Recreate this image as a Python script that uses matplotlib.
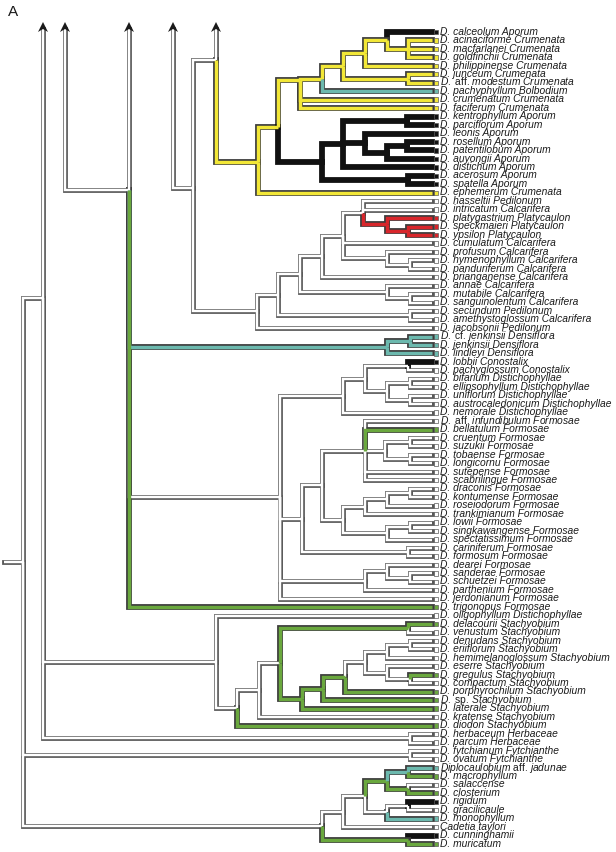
import matplotlib
matplotlib.use("Agg")
import matplotlib.pyplot as plt
from matplotlib.patches import Polygon, Rectangle

# ---------------- data ----------------
species = ["calceolum", "acinaciforme", "macfarlanei", "goldfinchii", "philippinense", "junceum",
           "aff. modestum", "pachyphyllum", "crumenatum", "faciferum", "kentrophyllum", "parciflorum",
           "leonis", "rosellum", "patentilobum", "auyongii", "distichum", "acerosum", "spatella",
           "ephemerum", "hasseltii", "intricatum", "platygastrium", "speckmaieri", "ypsilon",
           "cumulatum", "profusum", "hymenophyllum", "panduriferum", "prianganense", "annae",
           "mutabile", "sanguinolentum", "secundum", "amethystoglossum", "jacobsonii",
           "cf. jenkinsii", "jenkinsii", "lindleyi", "lobbii", "pachyglossum", "bifarium",
           "ellipsophyllum", "uniflorum", "austrocaledonicum", "nemorale", "aff. infundibulum",
           "bellatulum", "cruentum", "suzukii", "tobaense", "longicornu", "sutepense", "scabrilingue",
           "draconis", "kontumense", "roseiodorum", "trankimianum", "lowii", "singkawangense",
           "spectatissimum", "cariniferum", "formosum", "dearei", "sanderae", "schuetzei",
           "parthenium", "jerdonianum", "trigonopus", "oligophyllum", "delacourii", "venustum",
           "denudans", "eriiflorum", "hemimelanoglossum", "eserre", "gregulus", "compactum",
           "porphyrochilum", "sp.", "laterale", "kratense", "diodon", "herbaceum", "parcum",
           "fytchianum", "ovatum", "Diplocaulobium aff. jadunae", "macrophyllum", "salaccense",
           "closterium", "rigidum", "gracilicaule", "monophyllum", "Cadetia taylori",
           "cunninghamii", "muricatum"]
sections = (["Aporum"] + ["Crumenata"] * 6 + ["Bolbodium"] + ["Crumenata"] * 2 + ["Aporum"] * 9
            + ["Crumenata", "Pedilonum"] + ["Calcarifera"] + ["Platycaulon"] * 3 + ["Calcarifera"] * 8
            + ["Pedilonum", "Calcarifera", "Pedilonum"] + ["Densiflora"] * 3 + ["Conostalix"] * 2
            + ["Distichophyllae"] * 5 + ["Formosae"] * 23 + ["Distichophyllae"] + ["Stachyobium"] * 13
            + ["Herbaceae"] * 2 + ["Fytchianthe"] * 2 + [""] * 10)
tip_state = list("kyyyyyytyy" "kkkkkkkkky" "wwrrrwwwww" "wwwwwwtttk" "wwwwwwwgww"
                 "wwwwwwwwww" "wwwwwwwwgw" "gwwwwwgwgg" "gwgwwwwtgw" "gkwtwkg")

# tree strings: (children)colour[@y]:x ; tips = index into species ; '^' = lineage continuing upward
aporum = "(((10,11)k:407,(12,((13,14)k:407,15)k:387)k:365,16)k:343,(17,18)k:408)k:322"
crumenata = ("(((((((0,(1,2,3)y:408)y:387,4)y:365,(5,6)y:408)y:343,7)y:322,8,9)y@80:300,"
             + aporum + ")y@127:278,19)y@162:258")
calcarifera = ("((((((20,21,(22,(23,24)r:408)r:387)w:363,25,(26,(27,28)w:410)w:387)w:343,29)w:322,"
               "(30,(31,32)w:410)w:387)w:300,(33,34)w:410)w:278,35)w:257")
densiflora = "((36,37)t:410,38)t:387"
formosae_top = "(((39,40)w:408,((41,42)w:410,(43,44)w:410)w:387)w:365,45)w:343"
formosae_mid = ("(((46,47,((48,49)w:410,(50,51)w:410)w:385,52,53)w:365,"
                "((((54,55)w:410,56)w:387,57)w:365,((58,59)w:410,60)w:387)w:343)w:322,(61,62)w:408)w:302")
formosae_low = "((63,(64,65)w:410)w:387,66)w:365"
formosae = "(" + formosae_top + "," + formosae_mid + "," + formosae_low + ",67)w:280"
stachy = ("(69,((((70,71)g:408,((((((72,73)w:410,74)w:387,(75,(76,77)w:410)w:387)w:365,78)g:345,79)g:323,"
          "80)g:302)w:280,81)w:259,82)w:237)w:216")
herbaceae = "(83,84)w:410"
fytchianthe = "(85,86)w:410"
bottom = "(((((87,88)t:408,(89,90)g:408)g:387,((91,92)w:408,93)w:387)w:365,94)w:343,(95,96)g:408)w:322"

forest = [
    ("(^:173,(^," + crumenata + ")w@60:216," + calcarifera + ")w@188:193", None),
    ("(^:65,^," + densiflora + "," + formosae + ",68)g@190:129", None),
    ("((^," + stachy + "," + herbaceae + ")w@298:43," + fytchianthe + "," + bottom + ")w:23", 4.0),
]

colors = {"y": "#f2e737", "k": "#111111", "t": "#6cb9ae", "r": "#d8262b", "g": "#6aa83e", "w": "#ffffff"}
edge_col = "#5a5a5a"


def parse(s):
    pos = 0

    def node():
        nonlocal pos
        kids = []
        if s[pos] == "(":
            pos += 1
            kids.append(node())
            while s[pos] == ",":
                pos += 1
                kids.append(node())
            assert s[pos] == ")", s[:pos]
            pos += 1
        st = pos
        while pos < len(s) and s[pos] not in ":,()":
            pos += 1
        label = s[st:pos]
        x = None
        if pos < len(s) and s[pos] == ":":
            pos += 1
            st = pos
            while pos < len(s) and s[pos] not in ",()":
                pos += 1
            x = float(s[st:pos])
        return {"kids": kids, "label": label, "x": x}

    out = node()
    assert pos == len(s), "unparsed tail: " + s[pos:]
    return out


n_tips = len(species)
y_first, y_last = 32.0, 844.0
tip_x = 432.0
arrow_y = 26.0


def tip_y(i):
    return y_first + i * (y_last - y_first) / (n_tips - 1)


def layout(nd):
    lab = nd["label"]
    if not nd["kids"]:
        i = int(lab)
        nd["x"], nd["y"], nd["c"] = tip_x, tip_y(i), tip_state[i]
        return
    nd["c"] = lab[0]
    real = [k for k in nd["kids"] if k["label"] != "^"]
    for k in real:
        layout(k)
    if "@" in lab:
        nd["y"] = float(lab.split("@")[1])
    else:
        ys = [k["y"] for k in real]
        nd["y"] = (min(ys) + max(ys)) / 2
    for k in nd["kids"]:
        if k["label"] == "^":
            if k["x"] is None:
                k["x"] = nd["x"]
            k["y"], k["c"] = nd["y"], "w"


paths = []      # (xs, ys, colour)
arrow_xs = []
seen = []


def collect(nd):
    for k in nd["kids"]:
        xs = [nd["x"], nd["x"], k["x"]]
        ys = [nd["y"], k["y"], k["y"]]
        if k["label"] == "^":
            xs.append(k["x"])
            ys.append(arrow_y + 3)
            arrow_xs.append(k["x"])
        elif not k["kids"]:
            seen.append(int(k["label"]))
        paths.append((xs, ys, k["c"]))
        collect(k)


for s, stem_x in forest:
    r = parse(s)
    layout(r)
    if stem_x is not None:
        paths.append(([stem_x, r["x"]], [r["y"], r["y"]], r["c"]))
    collect(r)
assert sorted(seen) == list(range(n_tips)), sorted(set(range(n_tips)) - set(seen))

fig = plt.figure(figsize=(6.16, 8.52), dpi=100)
ax = fig.add_axes([0, 0, 1, 1])
ax.set_xlim(0, 616)
ax.set_ylim(852, 0)
ax.axis("off")

PT = 0.72  # points per pixel at 100 dpi
for xs, ys, c in paths:
    if c == "w":
        ax.plot(xs, ys, color=edge_col, lw=4.8 * PT, solid_joinstyle="miter", solid_capstyle="projecting", zorder=1)
    else:
        ax.plot(xs, ys, color="#111111" if c == "k" else "#3c3c3c", lw=5.8 * PT,
                solid_joinstyle="miter", solid_capstyle="projecting", zorder=2)
for xs, ys, c in paths:
    if c == "w":
        ax.plot(xs, ys, color="white", lw=2.4 * PT, solid_joinstyle="miter", solid_capstyle="butt", zorder=3)
    elif c != "k":
        ax.plot(xs, ys, color=colors[c], lw=3.4 * PT, solid_joinstyle="miter", solid_capstyle="butt", zorder=4)

for x in arrow_xs:
    ax.add_patch(Polygon([[x, arrow_y - 4], [x - 5, arrow_y + 6], [x, arrow_y + 3], [x + 5, arrow_y + 6]],
                         closed=True, facecolor="#1a1a1a", edgecolor="none", zorder=6))

plt.rcParams["mathtext.fontset"] = "custom"
plt.rcParams["mathtext.rm"] = "Liberation Sans"
plt.rcParams["mathtext.it"] = "Liberation Sans:italic"

FS = 7.4
for i, sp in enumerate(species):
    y = tip_y(i)
    ax.add_patch(Rectangle((434, y - 2.2), 4.4, 4.4, facecolor=colors[tip_state[i]],
                           edgecolor=edge_col, lw=0.5, zorder=5))
    full = (sp + " " + sections[i]).strip()
    if sp.startswith("Diplocaulobium") or sp.startswith("Cadetia"):
        words = full.split(" ")
    else:
        words = ["D."] + full.split(" ")
    if any(w in ("aff.", "cf.", "sp.") for w in words):
        parts = [w if w in ("aff.", "cf.", "sp.") else r"$\it{" + w + "}$" for w in words]
        ax.text(440.5, y + 2.7, " ".join(parts), fontsize=FS, family="Liberation Sans", va="baseline",
                ha="left", color="#1a1a1a")
    else:
        ax.text(440.5, y + 2.7, " ".join(words), fontsize=FS, family="Liberation Sans", style="italic",
                va="baseline", ha="left", color="#1a1a1a")

ax.text(8, 12, "A", fontsize=11, family="Liberation Sans", va="center", ha="left", color="#1a1a1a")

fig.savefig("out.png", dpi=100)
